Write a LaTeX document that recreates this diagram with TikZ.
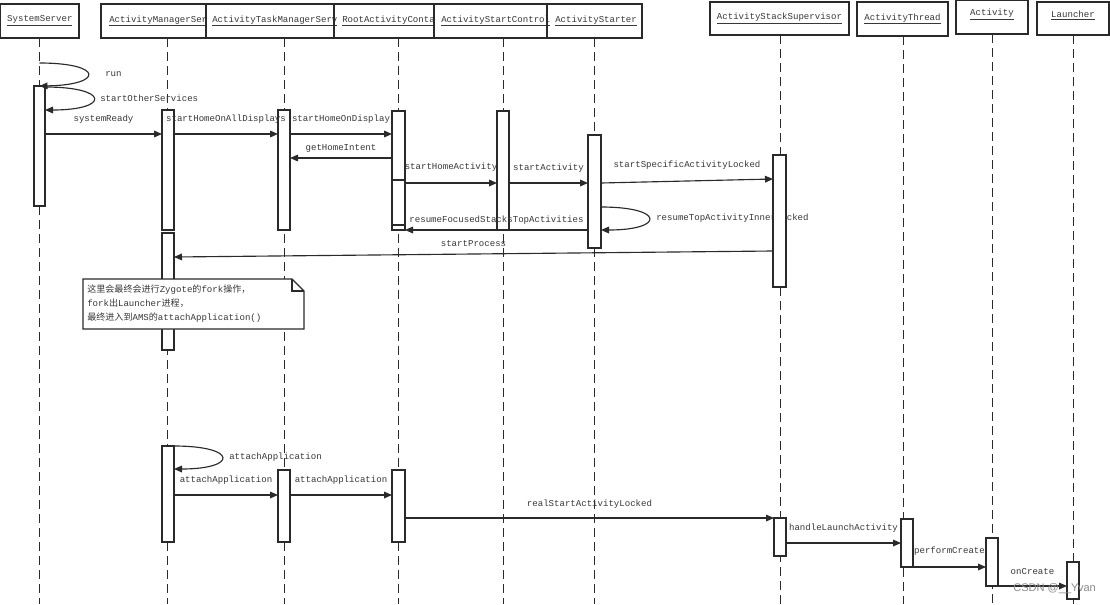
\documentclass[tikz,border=0pt]{standalone}
\usepackage{fontspec}
\setmonofont{Liberation Mono}
\newfontfamily\cjk{Noto Sans CJK SC}
\newfontfamily\wmfont{Liberation Sans}
\usetikzlibrary{arrows.meta}
\definecolor{ln}{HTML}{2A2A2A}
\definecolor{tx}{HTML}{383838}
\definecolor{wm}{HTML}{8C8C8C}
\tikzset{
  hdr/.style={draw=ln, line width=1pt, fill=white, inner sep=0pt, outer sep=0pt},
  life/.style={draw=ln, line width=1.1pt, dash pattern=on 6.5pt off 4pt},
  actbox/.style={draw=ln, line width=0.9pt, fill=white, inner sep=0pt, outer sep=0pt},
  msg/.style={draw=ln, line width=0.85pt, -{Triangle[length=6pt,width=5pt]}},
  lbl/.style={text=tx, font=\ttfamily\fontsize{6.8pt}{8pt}\selectfont, inner sep=0pt},
  up/.style={midway, yshift=11.25pt},
  upsm/.style={midway, yshift=7.5pt},
  notebox/.style={draw=ln, line width=0.8pt, fill=white},
}
\newcommand\BoxNode[6]{%
  \node[#1, minimum width={(#5-#3)*0.75pt}, minimum height={(#6-#4)*0.75pt}] (#2) at ({(#3+#5)/2},{(#4+#6)/2}) {};}
\begin{document}
\begin{tikzpicture}[x=0.75pt,y=-0.75pt]
\useasboundingbox (0,0) rectangle (1110,604);
\fill[white] (0,0) rectangle (1110,604);

% lifelines
\foreach \lx/\ly in {39.5/38,167.5/38,284.5/38,398.5/38,503.5/38,594.5/38,780.5/35,903.5/36,992.5/34,1073.5/35}
  \draw[life] (\lx,\ly) -- (\lx,604);

% headers
\BoxNode{hdr}{h-ss}{0.7}{4}{79}{38}
\BoxNode{hdr}{h-ams}{101}{4}{206}{38}
\BoxNode{hdr}{h-atms}{206}{4}{334}{38}
\BoxNode{hdr}{h-rac}{334}{4}{434}{38}
\BoxNode{hdr}{h-asc}{434}{4}{547}{38}
\BoxNode{hdr}{h-ast}{547}{4}{642}{38}
\BoxNode{hdr}{h-ass}{710}{2}{849}{35}
\BoxNode{hdr}{h-at}{857}{2}{948}{36}
\BoxNode{hdr}{h-act}{956}{0.7}{1028}{34}
\BoxNode{hdr}{h-lau}{1037}{2}{1109}{35}

\node[lbl] (t-ss) at (h-ss) {\underline{SystemServer}};
\node[lbl, anchor=west] (t-ams) at (109,21) {\underline{ActivityManagerSer}};
\node[lbl, anchor=west] (t-atms) at (212,21) {\underline{ActivityTaskManagerServ}};
\node[lbl, anchor=west] (t-rac) at (342,21) {\underline{RootActivityConta}};
\node[lbl, anchor=west] (t-asc) at (441,21) {\underline{ActivityStartControl}};
\node[lbl, anchor=west] (t-ast) at (555,21) {\underline{ActivityStarter}};
\node[lbl] (t-ass) at (h-ass) {\underline{ActivityStackSupervisor}};
\node[lbl] (t-at) at (h-at) {\underline{ActivityThread}};
\node[lbl] (t-act) at ([yshift=2pt]h-act) {\underline{Activity}};
\node[lbl] (t-lau) at ([yshift=2pt]h-lau) {\underline{Launcher}};
% redraw header edges over overflowing text
\foreach \n in {h-ams,h-atms,h-rac,h-asc,h-ast}
  \draw[ln, line width=1pt] (\n.north east) -- (\n.south east);

% activation boxes
\BoxNode{actbox}{ss1}{34}{86}{45}{206}
\BoxNode{actbox}{ams1}{162}{110}{174}{230}
\BoxNode{actbox}{ams2}{162}{233}{174}{350}
\BoxNode{actbox}{atms1}{278}{110}{290}{230}
\BoxNode{actbox}{rac1}{392}{111}{405}{230}
\BoxNode{actbox}{rac1b}{392}{180}{405}{225}
\BoxNode{actbox}{asc1}{497}{111}{509}{230}
\BoxNode{actbox}{ast1}{588}{135}{601}{248}
\node[lbl, anchor=west] (l-rtai) at (656,218) {resumeTopActivityInnerLocked};
\BoxNode{actbox}{ass1}{773}{155}{786}{287}
\BoxNode{actbox}{ams3}{162}{446}{174}{542}
\BoxNode{actbox}{atms2}{278}{470}{290}{542}
\BoxNode{actbox}{rac2}{392}{470}{405}{542}
\BoxNode{actbox}{ass2}{774}{518}{786}{556}
\BoxNode{actbox}{at1}{901}{519}{913}{567}
\BoxNode{actbox}{act1}{986}{538}{998}{586}
\BoxNode{actbox}{lau1}{1067}{562}{1079}{599}

% self loops
\draw[msg] (39.5,63) .. controls (104,63) and (104,85) .. (ss1.north);
\node[lbl, anchor=west] (l-run) at (105,74) {run};
\draw[msg] (ss1.east |- 0,87) .. controls (110,87) and (110,110) .. (ss1.east |- 0,110);
\node[lbl, anchor=west] (l-sos) at (100,98) {startOtherServices};
\draw[msg] (ast1.east |- 0,207) .. controls (665,207) and (665,230) .. (ast1.east |- 0,230);
\draw[msg] (ams3.east |- 0,446) .. controls (238,446) and (238,469) .. (ams3.east |- 0,469);
\node[lbl, anchor=west] (l-aa0) at (229,457) {attachApplication};

% messages
\draw[msg] (ss1.east |- 0,134) -- node[lbl, up] {systemReady} (ams1.west |- 0,134);
\draw[msg] (ams1.east |- 0,134) -- node[lbl, up] {startHomeOnAllDisplays} (atms1.west |- 0,134);
\draw[msg] (atms1.east |- 0,134) -- node[lbl, up] {startHomeOnDisplay} (rac1.west |- 0,134);
\draw[msg] (rac1.west |- 0,158) -- node[lbl, upsm] {getHomeIntent} (atms1.east |- 0,158);
\draw[msg] (rac1.east |- 0,183) -- node[lbl, yshift=12pt] {startHomeActivity} (asc1.west |- 0,183);
\draw[msg] (asc1.east |- 0,183) -- node[lbl, yshift=11pt] {startActivity} (ast1.west |- 0,183);
\draw[msg] (ast1.east |- 0,183) -- node[lbl, yshift=12pt] {startSpecificActivityLocked} (ass1.west |- 0,179);
\draw[msg] (ast1.west |- 0,230) -- node[lbl, upsm] {resumeFocusedStacksTopActivities} (rac1.east |- 0,230);
\draw[msg] (ass1.west |- 0,251) -- node[lbl, upsm] {startProcess} (ams2.east |- 0,257);
\draw[msg] (ams3.east |- 0,495) -- node[lbl, up] {attachApplication} (atms2.west |- 0,495);
\draw[msg] (atms2.east |- 0,495) -- node[lbl, up] {attachApplication} (rac2.west |- 0,495);
\draw[msg] (rac2.east |- 0,518) -- node[lbl, yshift=10.5pt] {realStartActivityLocked} (ass2.west |- 0,518);
\draw[msg] (ass2.east |- 0,543) -- node[lbl, up] {handleLaunchActivity} (at1.west |- 0,543);
\draw[msg] (at1.east |- 0,567) -- node[lbl, yshift=12pt] {performCreate} (act1.west |- 0,567);
\draw[msg] (act1.east |- 0,586) -- node[lbl, yshift=10.5pt] {onCreate} (lau1.west |- 0,586);

% note
\draw[notebox] (83,279) -- (292,279) -- (304,291) -- (304,329) -- (83,329) -- cycle;
\draw[ln, line width=0.8pt] (292,279) -- (292,291) -- (304,291);
\node[lbl, anchor=north west, align=left, font=\ttfamily\fontsize{6.8pt}{10.3pt}\selectfont] (note) at (87,285)
 {{\cjk 这里会最终会进行}Zygote{\cjk 的}fork{\cjk 操作，}\\
  fork{\cjk 出}Launcher{\cjk 进程，}\\
  {\cjk 最终进入到}AMS{\cjk 的}attachApplication()};

% watermark
\node[anchor=west, text=wm, inner sep=0pt, font=\wmfont\fontsize{8.3pt}{9pt}\selectfont] (wm) at (1013,589) {CSDN @\_\_Yvan};
\end{tikzpicture}
\end{document}
